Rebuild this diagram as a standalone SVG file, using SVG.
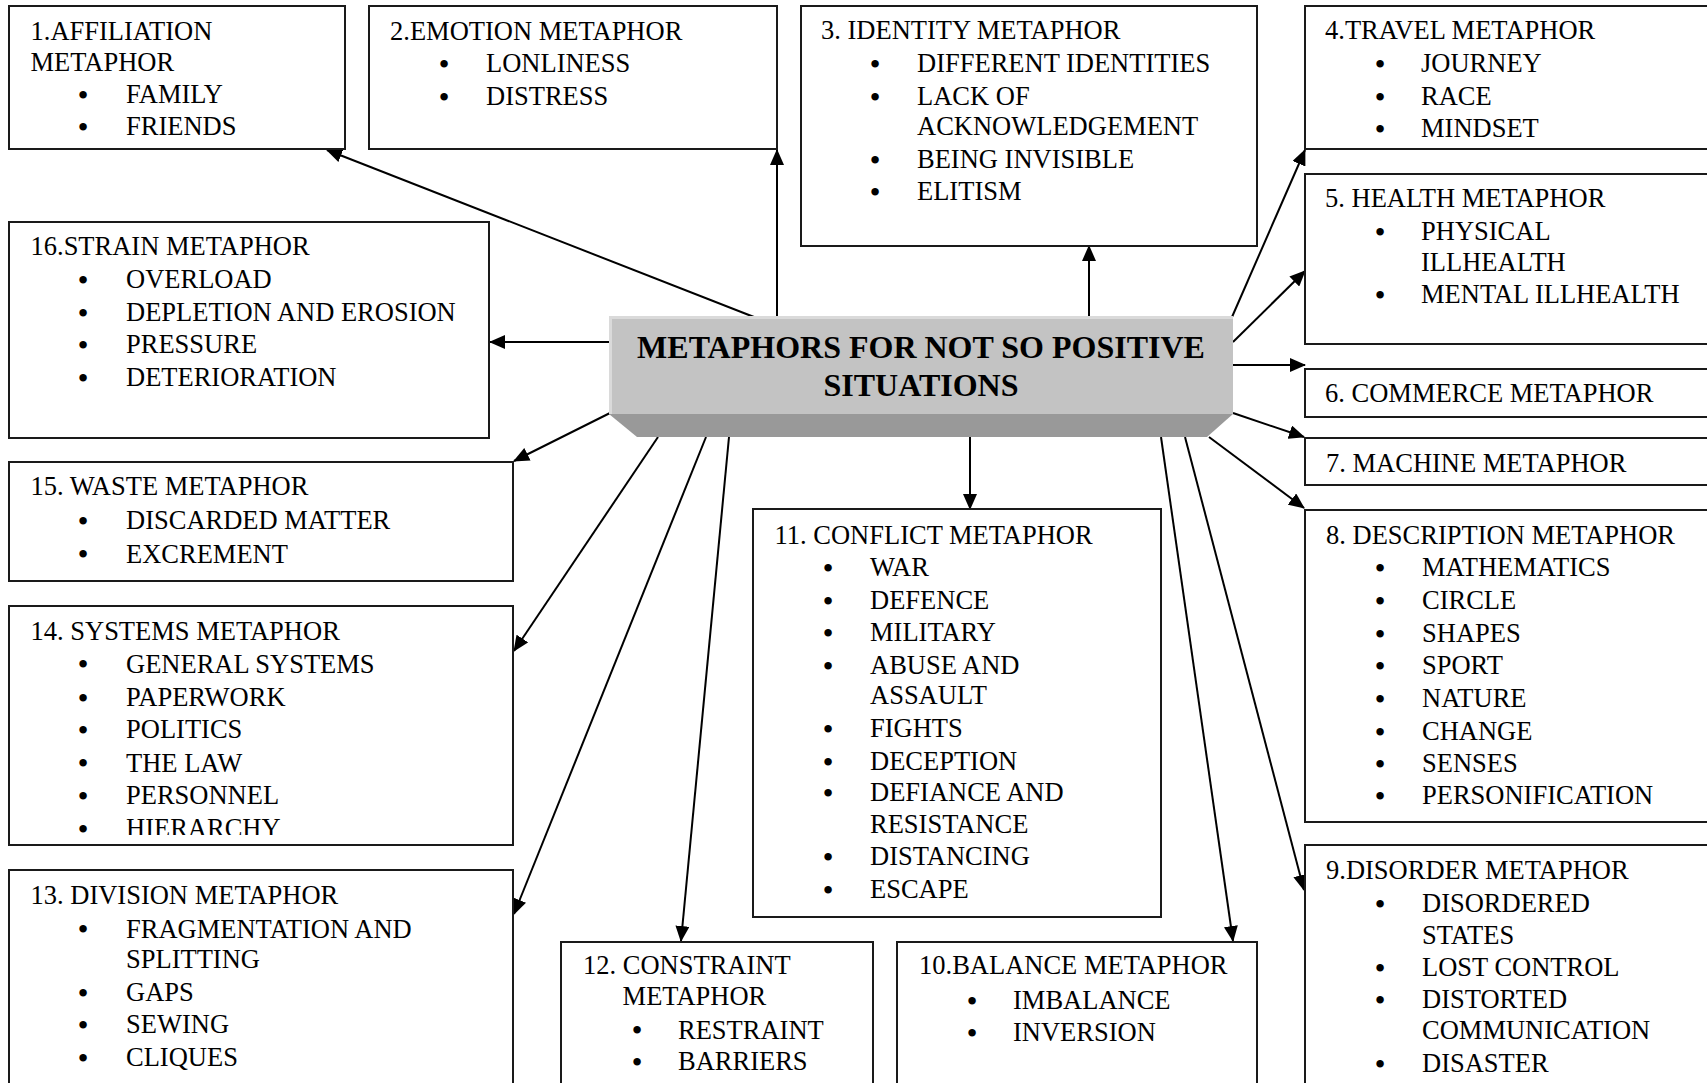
<svg xmlns="http://www.w3.org/2000/svg" width="1707" height="1083" viewBox="0 0 1707 1083">
<style>
text{font-family:"Liberation Serif","Times New Roman",serif;font-size:26.5px;fill:#000}
.box{fill:#fff;stroke:#1a1a1a;stroke-width:2}
.b{text-anchor:middle;font-size:27.5px;font-weight:bold}
.title{font-weight:bold;font-size:32px;text-anchor:middle}
.con line{stroke:#000;stroke-width:2;marker-end:url(#ah)}
</style>
<defs>
<marker id="ah" markerUnits="userSpaceOnUse" markerWidth="16" markerHeight="14" refX="15" refY="7" orient="auto">
<path d="M0,0 L16,7 L0,14 z" fill="#000"/>
</marker>
<clipPath id="c14"><rect x="0" y="600" width="520" height="235"/></clipPath>
</defs>
<rect width="1707" height="1083" fill="#fff"/>

<g id="connectors" class="con">
<line x1="754" y1="317" x2="327" y2="150"/>
<line x1="777" y1="317" x2="777" y2="150"/>
<line x1="1089" y1="317" x2="1089" y2="246"/>
<line x1="1232" y1="317" x2="1305" y2="150"/>
<line x1="1233" y1="342" x2="1305" y2="271"/>
<line x1="1233" y1="365" x2="1305" y2="365"/>
<line x1="1233" y1="413" x2="1304" y2="437"/>
<line x1="1209" y1="437" x2="1304" y2="508"/>
<line x1="1185" y1="437" x2="1304" y2="890"/>
<line x1="1161" y1="437" x2="1233" y2="941"/>
<line x1="970" y1="437" x2="970" y2="509"/>
<line x1="729" y1="437" x2="681" y2="941"/>
<line x1="706" y1="437" x2="514" y2="914"/>
<line x1="658" y1="437" x2="514" y2="651"/>
<line x1="610" y1="413" x2="514" y2="461"/>
<line x1="610" y1="342" x2="490" y2="342"/>
</g>

<g id="center">
<rect x="609" y="316" width="624" height="98" fill="#c3c3c3"/>
<rect x="609" y="316" width="624" height="3" fill="#dadada"/>
<rect x="609" y="316" width="3" height="98" fill="#dadada"/>
<polygon points="609,414 1233,414 1207,437 637,437" fill="#999"/>
<text class="title" x="921" y="358">METAPHORS FOR NOT SO POSITIVE</text>
<text class="title" x="921" y="396">SITUATIONS</text>
</g>

<g id="n1">
<rect class="box" x="9" y="6" width="336" height="143"/>
<text x="30.5" y="40">1.AFFILIATION</text>
<text x="30.5" y="71">METAPHOR</text>
<text class="b" x="83" y="103.5">•</text><text x="126" y="103">FAMILY</text>
<text class="b" x="83" y="135.5">•</text><text x="126" y="135">FRIENDS</text>
</g>

<g id="n2">
<rect class="box" x="369" y="6" width="408" height="143"/>
<text x="390" y="40">2.EMOTION METAPHOR</text>
<text class="b" x="444" y="72.5">•</text><text x="486" y="72">LONLINESS</text>
<text class="b" x="444" y="105.5">•</text><text x="486" y="105">DISTRESS</text>
</g>

<g id="n3">
<rect class="box" x="801" y="6" width="456" height="240"/>
<text x="821" y="39">3. IDENTITY METAPHOR</text>
<text class="b" x="875" y="72.5">•</text><text x="917" y="72">DIFFERENT IDENTITIES</text>
<text class="b" x="875" y="105.5">•</text><text x="917" y="105">LACK OF</text>
<text x="917" y="135">ACKNOWLEDGEMENT</text>
<text class="b" x="875" y="168.5">•</text><text x="917" y="168">BEING INVISIBLE</text>
<text class="b" x="875" y="200.5">•</text><text x="917" y="200">ELITISM</text>
</g>

<g id="n4">
<rect class="box" x="1305" y="6" width="450" height="143"/>
<text x="1325" y="39">4.TRAVEL METAPHOR</text>
<text class="b" x="1380" y="72.5">•</text><text x="1421" y="72">JOURNEY</text>
<text class="b" x="1380" y="105.5">•</text><text x="1421" y="105">RACE</text>
<text class="b" x="1380" y="137.5">•</text><text x="1421" y="137">MINDSET</text>
</g>

<g id="n5">
<rect class="box" x="1305" y="174" width="450" height="170"/>
<text x="1325" y="207">5. HEALTH METAPHOR</text>
<text class="b" x="1380" y="240.5">•</text><text x="1421" y="240">PHYSICAL</text>
<text x="1421" y="271">ILLHEALTH</text>
<text class="b" x="1380" y="303.5">•</text><text x="1421" y="303">MENTAL ILLHEALTH</text>
</g>

<g id="n6">
<rect class="box" x="1305" y="369" width="450" height="48"/>
<text x="1325" y="402">6. COMMERCE METAPHOR</text>
</g>

<g id="n7">
<rect class="box" x="1305" y="438" width="450" height="47"/>
<text x="1326" y="472">7. MACHINE METAPHOR</text>
</g>

<g id="n8">
<rect class="box" x="1305" y="510" width="450" height="312"/>
<text x="1326" y="544">8. DESCRIPTION METAPHOR</text>
<text class="b" x="1380" y="576.5">•</text><text x="1422" y="576">MATHEMATICS</text>
<text class="b" x="1380" y="609.5">•</text><text x="1422" y="609">CIRCLE</text>
<text class="b" x="1380" y="642.5">•</text><text x="1422" y="642">SHAPES</text>
<text class="b" x="1380" y="674.5">•</text><text x="1422" y="674">SPORT</text>
<text class="b" x="1380" y="707.5">•</text><text x="1422" y="707">NATURE</text>
<text class="b" x="1380" y="740.5">•</text><text x="1422" y="740">CHANGE</text>
<text class="b" x="1380" y="772.5">•</text><text x="1422" y="772">SENSES</text>
<text class="b" x="1380" y="804.5">•</text><text x="1422" y="804">PERSONIFICATION</text>
</g>

<g id="n9">
<rect class="box" x="1305" y="845" width="450" height="300"/>
<text x="1326" y="879">9.DISORDER METAPHOR</text>
<text class="b" x="1380" y="912.5">•</text><text x="1422" y="912">DISORDERED</text>
<text x="1422" y="944">STATES</text>
<text class="b" x="1380" y="976.5">•</text><text x="1422" y="976">LOST CONTROL</text>
<text class="b" x="1380" y="1008.5">•</text><text x="1422" y="1008">DISTORTED</text>
<text x="1422" y="1039">COMMUNICATION</text>
<text class="b" x="1380" y="1072.5">•</text><text x="1422" y="1072">DISASTER</text>
</g>

<g id="n10">
<rect class="box" x="897" y="942" width="360" height="200"/>
<text x="919" y="974">10.BALANCE METAPHOR</text>
<text class="b" x="972" y="1009.5">•</text><text x="1013" y="1009">IMBALANCE</text>
<text class="b" x="972" y="1041.5">•</text><text x="1013" y="1041">INVERSION</text>
</g>

<g id="n11">
<rect class="box" x="753" y="509" width="408" height="408"/>
<text x="774.5" y="543.5">11. CONFLICT METAPHOR</text>
<text class="b" x="828" y="576.5">•</text><text x="870" y="576">WAR</text>
<text class="b" x="828" y="609.5">•</text><text x="870" y="609">DEFENCE</text>
<text class="b" x="828" y="641.5">•</text><text x="870" y="641">MILITARY</text>
<text class="b" x="828" y="674.5">•</text><text x="870" y="674">ABUSE AND</text>
<text x="870" y="704">ASSAULT</text>
<text class="b" x="828" y="737.5">•</text><text x="870" y="737">FIGHTS</text>
<text class="b" x="828" y="770.5">•</text><text x="870" y="770">DECEPTION</text>
<text class="b" x="828" y="801.5">•</text><text x="870" y="801">DEFIANCE AND</text>
<text x="870" y="833">RESISTANCE</text>
<text class="b" x="828" y="865.5">•</text><text x="870" y="865">DISTANCING</text>
<text class="b" x="828" y="898.5">•</text><text x="870" y="898">ESCAPE</text>
</g>

<g id="n12">
<rect class="box" x="561" y="942" width="312" height="200"/>
<text x="583" y="974">12. CONSTRAINT</text>
<text x="622.6" y="1005">METAPHOR</text>
<text class="b" x="637" y="1039">•</text><text x="678" y="1038.5">RESTRAINT</text>
<text class="b" x="637" y="1070.5">•</text><text x="678" y="1070">BARRIERS</text>
</g>

<g id="n13">
<rect class="box" x="9" y="870" width="504" height="300"/>
<text x="30.5" y="904">13. DIVISION METAPHOR</text>
<text class="b" x="83" y="938">•</text><text x="126" y="937.5">FRAGMENTATION AND</text>
<text x="126" y="968">SPLITTING</text>
<text class="b" x="83" y="1001.5">•</text><text x="126" y="1001">GAPS</text>
<text class="b" x="83" y="1033.5">•</text><text x="126" y="1033">SEWING</text>
<text class="b" x="83" y="1066.5">•</text><text x="126" y="1066">CLIQUES</text>
</g>

<g id="n14">
<rect class="box" x="9" y="606" width="504" height="239"/>
<g clip-path="url(#c14)">
<text x="30.5" y="639.6">14. SYSTEMS METAPHOR</text>
<text class="b" x="83" y="673">•</text><text x="126" y="672.5">GENERAL SYSTEMS</text>
<text class="b" x="83" y="706.5">•</text><text x="126" y="706">PAPERWORK</text>
<text class="b" x="83" y="738.5">•</text><text x="126" y="738">POLITICS</text>
<text class="b" x="83" y="772.2">•</text><text x="126" y="771.7">THE LAW</text>
<text class="b" x="83" y="804.5">•</text><text x="126" y="804">PERSONNEL</text>
<text class="b" x="83" y="837.5">•</text><text x="126" y="837">HIERARCHY</text>
</g>
</g>

<g id="n15">
<rect class="box" x="9" y="462" width="504" height="119"/>
<text x="30.5" y="494.6">15. WASTE METAPHOR</text>
<text class="b" x="83" y="529.5">•</text><text x="126" y="529">DISCARDED MATTER</text>
<text class="b" x="83" y="563">•</text><text x="126" y="562.5">EXCREMENT</text>
</g>

<g id="n16">
<rect class="box" x="9" y="222" width="480" height="216"/>
<text x="30.5" y="255">16.STRAIN METAPHOR</text>
<text class="b" x="83" y="288.5">•</text><text x="126" y="288">OVERLOAD</text>
<text class="b" x="83" y="321.5">•</text><text x="126" y="321">DEPLETION AND EROSION</text>
<text class="b" x="83" y="353.5">•</text><text x="126" y="353">PRESSURE</text>
<text class="b" x="83" y="386.5">•</text><text x="126" y="386">DETERIORATION</text>
</g>
</svg>
